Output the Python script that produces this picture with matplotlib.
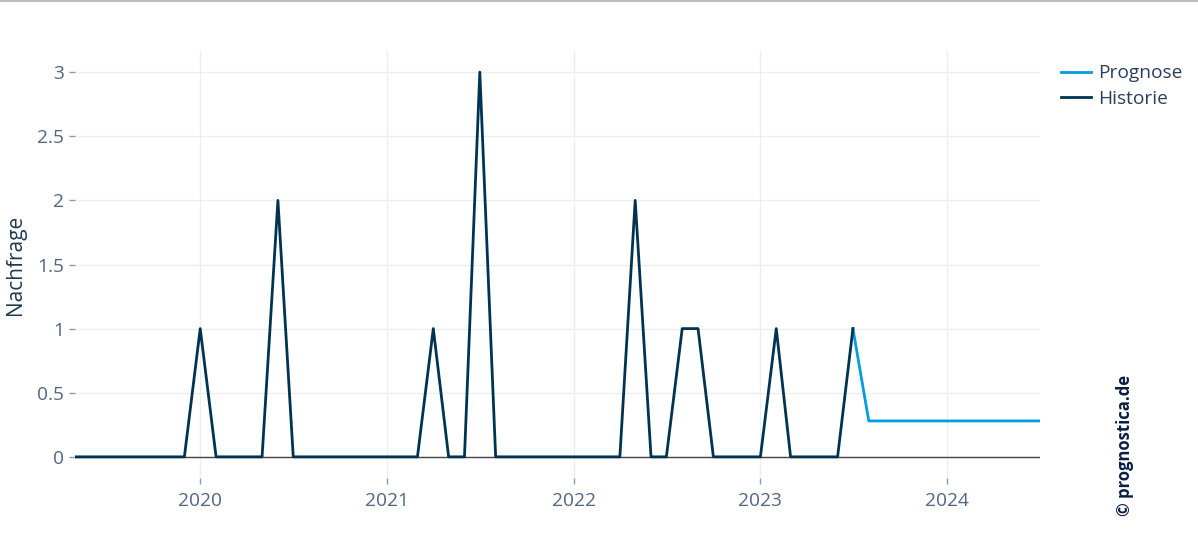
import pandas as pd
import matplotlib
matplotlib.use('Agg')
import matplotlib.pyplot as plt
import matplotlib.dates as mdates
from matplotlib.lines import Line2D

plt.rcParams['font.family'] = ['Open Sans', 'DejaVu Sans']

# Historie: monthly demand, 2019-05 .. 2023-07
hist_months = pd.date_range('2019-05-01', '2023-07-01', freq='MS')
hist_values = [0, 0, 0, 0, 0, 0, 0, 0,          # 2019-05 .. 2019-12
               1, 0, 0, 0, 0, 2, 0, 0, 0, 0, 0, 0,  # 2020
               0, 0, 0, 1, 0, 0, 3, 0, 0, 0, 0, 0,  # 2021
               0, 0, 0, 0, 2, 0, 0, 1, 1, 0, 0, 0,  # 2022
               0, 1, 0, 0, 0, 0, 1]               # 2023-01 .. 2023-07

# Prognose: 2023-07 .. 2024-07
fc_months = pd.date_range('2023-07-01', '2024-07-01', freq='MS')
fc_values = [1] + [0.28] * 12

year_ticks = pd.to_datetime(['2020-01-01', '2021-01-01', '2022-01-01', '2023-01-01', '2024-01-01'])
y_ticks = [0, 0.5, 1, 1.5, 2, 2.5, 3]
y_labels = ['0', '0.5', '1', '1.5', '2', '2.5', '3']

hist_color = '#003352'
fc_color = '#009ee0'
tick_color = '#506784'

fig = plt.figure(figsize=(11.98, 5.48), dpi=100)
ax = fig.add_axes([75 / 1198, 1 - 478 / 548, 965 / 1198, 427 / 548])

ax.plot(fc_months, fc_values, color=fc_color, lw=2, label='Prognose', zorder=3)
ax.plot(hist_months, hist_values, color=hist_color, lw=2, label='Historie', zorder=4)
ax.axhline(0, color='#444444', lw=1, zorder=2)

ax.set_xlim(pd.Timestamp('2019-05-01'), pd.Timestamp('2024-07-01'))
ax.set_ylim(-0.165, 3.165)
ax.set_xticks(year_ticks)
ax.xaxis.set_major_formatter(mdates.DateFormatter('%Y'))
ax.set_yticks(y_ticks)
ax.set_yticklabels(y_labels)

ax.grid(True, color='#eeeeee', lw=1)
ax.set_axisbelow(True)
for s in ax.spines.values():
    s.set_visible(False)
ax.tick_params(axis='both', colors='#8a9bb0', labelcolor=tick_color, labelsize=13.8,
               length=4, width=1, pad=4)
ax.tick_params(axis='x', pad=6)
ax.set_ylabel('Nachfrage', fontsize=15, color='#1f3a52', labelpad=8)

fig.legend(loc='upper left', bbox_to_anchor=(1044 / 1198, 1 - 47 / 548), frameon=False,
           fontsize=13.8, handlelength=1.55, handletextpad=0.4, labelspacing=0.4,
           labelcolor='#2a3f5f')

fig.text(1125 / 1198, 1 - 445 / 548, '\u00a9 prognostica.de', rotation=90,
         ha='center', va='center', fontsize=12, fontweight='bold', color='#0b1f45')

# thin grey border line at top of the figure
fig.add_artist(Line2D([0, 1], [0.998, 0.998], transform=fig.transFigure, color='#bbbbbb', lw=1.5))

fig.savefig('out.png', dpi=100)
